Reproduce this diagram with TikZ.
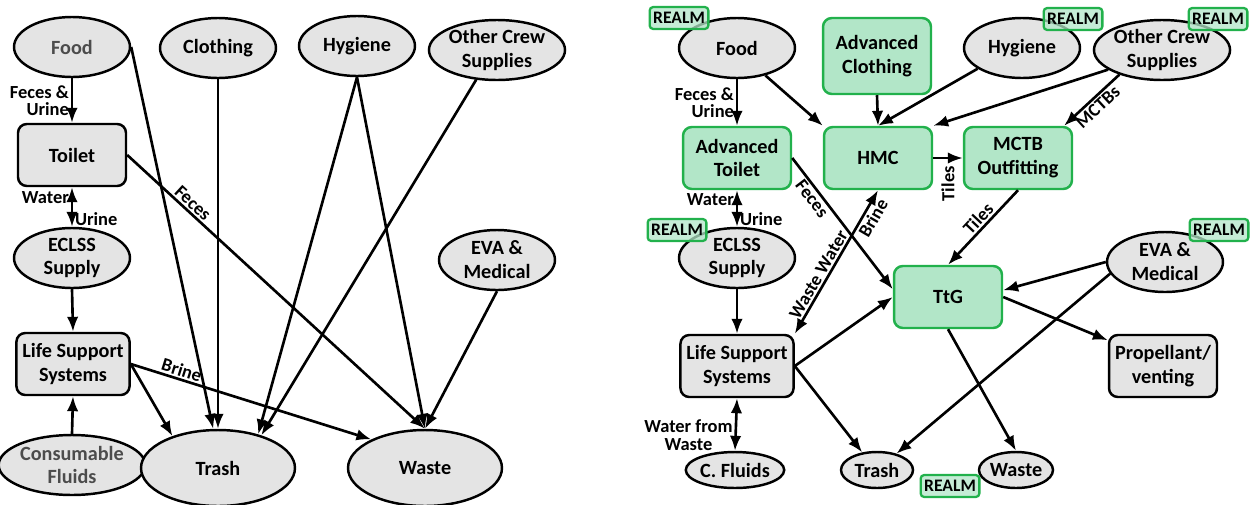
\documentclass[tikz,border=0pt]{standalone}
\usepackage{fontspec}
\setmainfont{Carlito}
\usetikzlibrary{arrows.meta,positioning,shapes.geometric}
\definecolor{nodegray}{RGB}{228,228,228}
\definecolor{mintfill}{RGB}{178,230,200}
\definecolor{mintline}{RGB}{34,177,76}
\tikzset{font=\bfseries\fontsize{11.5}{13.6}\selectfont}
\tikzset{
  flow/.style={line width=1.5pt, -{Latex[length=8.5pt,width=6.5pt]}},
  twoway/.style={line width=1.5pt, {Latex[length=8.5pt,width=6.5pt]}-{Latex[length=8.5pt,width=6.5pt]}},
  lbl/.style={font=\bfseries\fontsize{10.5}{10}\selectfont, inner sep=1pt},
  supply/.style={ellipse, draw, line width=1.4pt, fill=nodegray, inner sep=0pt,
    minimum width=2.32cm, minimum height=1.2cm, align=center},
  sink/.style={supply, minimum width=3.08cm, minimum height=1.52cm},
  smallsink/.style={supply, minimum width=1.44cm, minimum height=0.72cm},
  unit/.style={rectangle, rounded corners=5pt, draw, line width=1.4pt, fill=nodegray,
    minimum width=2.16cm, minimum height=1.24cm, align=center},
  greenunit/.style={unit, draw=mintline, fill=mintfill},
  realm/.style={rectangle, rounded corners=2pt, draw=mintline, fill=mintfill,
    fill opacity=.75, text opacity=1, line width=1.3pt, inner xsep=2pt, inner ysep=3pt,
    font=\bfseries\fontsize{10}{10}\selectfont},
}

\begin{document}
\begin{tikzpicture}[x=0.02cm, y=-0.02cm]
  \useasboundingbox (0,0) rectangle (1257,504);

  % baseline flows
  \node[supply, text=black!70] (food) at (72,47) {Food};
  \node[supply] (cloth) at (218,48) {Clothing};
  \node[supply] (hyg) at (357,46) {Hygiene};
  \node[supply] (crew) at (497,50) {Other Crew\\Supplies};
  \node[unit] (toilet) at (72,155) {Toilet};
  \node[supply] (eclss) at (72,258) {ECLSS\\Supply};
  \node[supply] (eva) at (497,260) {EVA \&\\Medical};
  \node[unit] (lss) at (73,364) {Life Support\\Systems};
  \node[supply, text=black!70] (cons) at (72,465) {Consumable\\Fluids};
  \node[sink] (trash) at (218,468) {Trash};
  \node[sink] (waste) at (425,468) {Waste};

  \draw[flow] (food.south) -- node[lbl, left, align=right] {Feces \&\\Urine} (toilet.north);
  \draw[twoway] (toilet.south) -- node[lbl, left, pos=.25] {Water}
    node[lbl, right, pos=.8] {Urine} (eclss.north);
  \draw[flow] (eclss.south) -- (lss.north);
  \draw[flow] (cons.north) -- (lss.south);
  \draw[flow] (food.east) -- (trash.97);
  \draw[flow] (cloth.south) -- (trash.north);
  \draw[flow] (hyg.south) -- (trash.40);
  \draw[flow] (crew.235) -- (trash.37);
  \draw[flow] (hyg.south) -- (waste.north);
  \draw[flow] (toilet.east) -- node[lbl, sloped, above, pos=.2] {Feces} (waste.north);
  \draw[flow] (eva.south) -- (waste.north);
  \draw[flow] (lss.east) -- (trash.145);
  \draw[flow] (lss.east) -- node[lbl, sloped, above, pos=.2] {Brine} (waste.152);

  % proposed flows
  \node[supply] (rfood) at (737,48) {Food};
  \node[greenunit, minimum height=1.52cm] (rcloth) at (877,56) {Advanced\\Clothing};
  \node[supply] (rhyg) at (1022,48) {Hygiene};
  \node[supply] (rcrew) at (1162,50) {Other Crew\\Supplies};
  \node[greenunit] (rtoilet) at (737,158) {Advanced\\Toilet};
  \node[greenunit] (rhmc) at (878,158) {HMC};
  \node[greenunit] (rmctb) at (1018,158) {MCTB\\Outfitting};
  \node[supply] (reclss) at (737,258) {ECLSS\\Supply};
  \node[greenunit] (rtg) at (948,297) {TtG};
  \node[supply] (reva) at (1165,262) {EVA \&\\Medical};
  \node[unit] (rlss) at (737,366) {Life Support\\Systems};
  \node[unit] (rprop) at (1163,366) {Propellant/\\venting};
  \node[smallsink] (rcfl) at (735,470) {C. Fluids};
  \node[smallsink] (rtrash) at (877,470) {Trash};
  \node[smallsink] (rwaste) at (1016,470) {Waste};

  \node[realm] (tagfood) at (679,18) {REALM};
  \node[realm] (taghyg) at (1073,19) {REALM};
  \node[realm] (tagcrew) at (1218,19) {REALM};
  \node[realm] (tageclss) at (677,230) {REALM};
  \node[realm] (tageva) at (1219,230) {REALM};
  \node[realm] (tagbin) at (950,486) {REALM};

  \draw[flow] (rfood.south) -- node[lbl, left, align=right] {Feces \&\\Urine} (rtoilet.north);
  \draw[flow] (rfood.-44) -- (rhmc.north west);
  \draw[flow] (rcloth.south) -- (rhmc.north);
  \draw[flow] (rhyg.205) -- (rhmc.north);
  \draw[flow] (rcrew.200) -- (rhmc.north east);
  \draw[flow] (rcrew.210) -- node[lbl, sloped, below] {MCTBs} (rmctb.35);
  \draw[flow] (rhmc.east) -- node[lbl, rotate=90, anchor=east, inner sep=4pt] {Tiles} (rmctb.west);
  \draw[flow] (rmctb.south) -- node[lbl, sloped, above, pos=.47] {Tiles} (rtg.north);
  \draw[flow] (rtoilet.east) -- node[lbl, sloped, below, pos=.27] {Feces} (rtg.172);
  \draw[twoway] (rtoilet.south) -- node[lbl, left, pos=.25] {Water}
    node[lbl, right, pos=.8] {Urine} (reclss.north);
  \draw[flow] (reclss.south) -- (rlss.north);
  \draw[twoway] (rlss.north east) -- node[lbl, sloped, above, pos=.38] {Waste Water}
    node[lbl, sloped, below, pos=.84] {Brine} (rhmc.south);
  \draw[flow] (rlss.east) -- (rtg.west);
  \draw[flow] (rlss.east) -- (rtrash.130);
  \draw[twoway] (rlss.south) -- node[lbl, left, align=center, pos=.7] {Water from\\Waste} (rcfl.north);
  \draw[flow] (reva.west) -- (rtg.7);
  \draw[flow] (reva.192) -- (rtrash.40);
  \draw[flow] (rtg.east) -- (rprop.155);
  \draw[flow] (rtg.south) -- (rwaste.north);
\end{tikzpicture}
\end{document}
